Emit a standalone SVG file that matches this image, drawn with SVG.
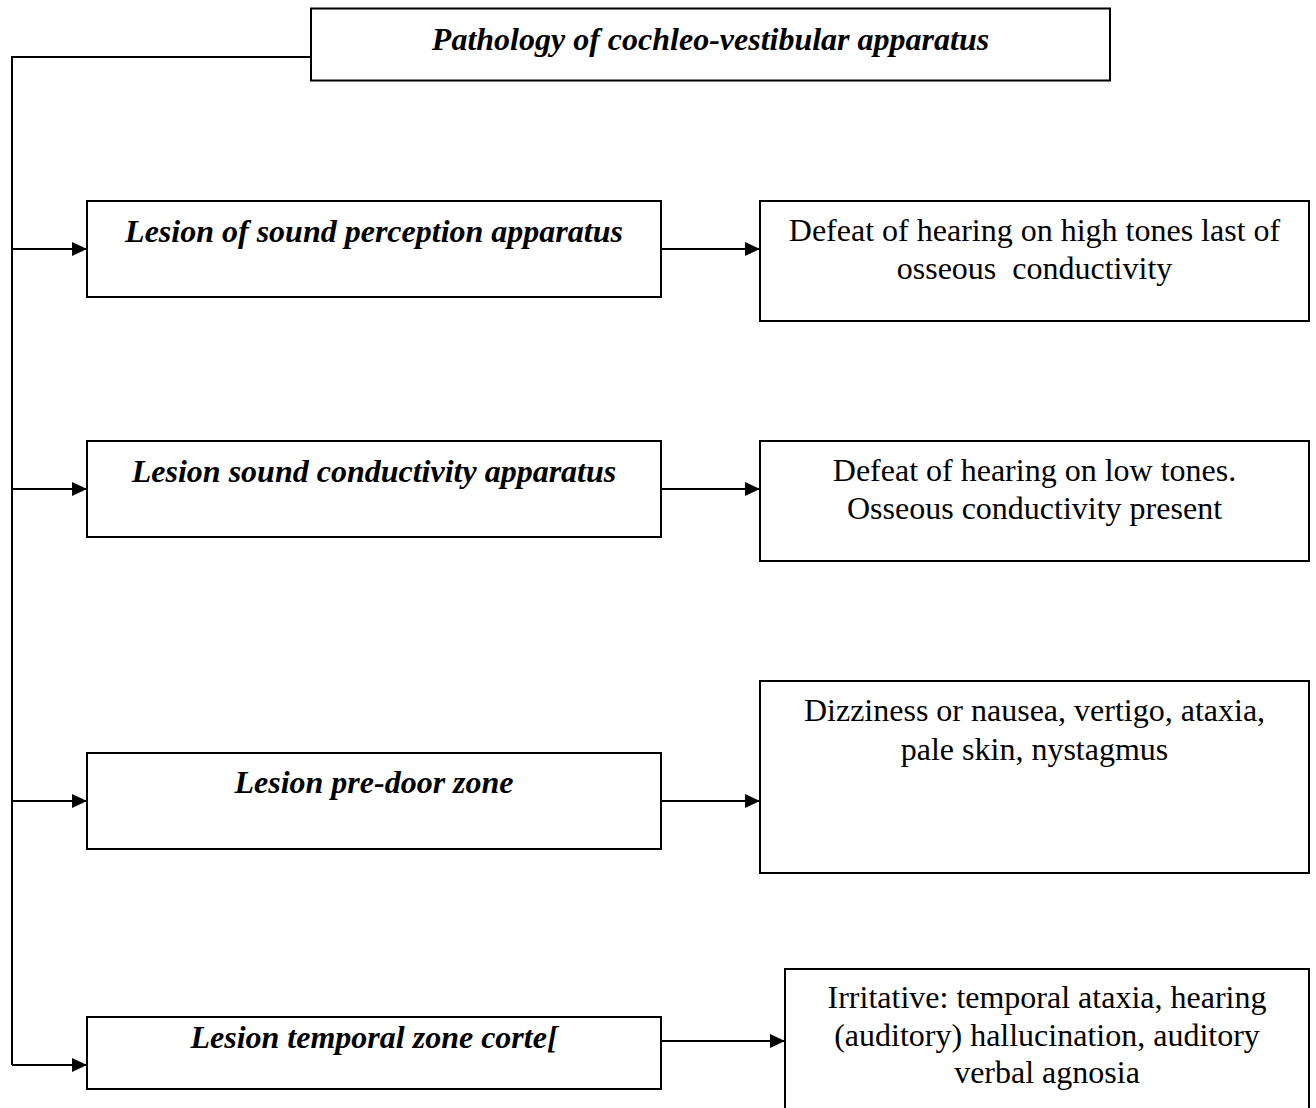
<svg xmlns="http://www.w3.org/2000/svg" width="1316" height="1108" viewBox="0 0 1316 1108">
  <style>
    .box { fill: #ffffff; stroke: #000000; stroke-width: 2; }
    .wire { fill: none; stroke: #000000; stroke-width: 2; }
    .head { font-family: "Liberation Serif", "Times New Roman", serif; font-size: 32px; font-weight: bold; font-style: italic; fill: #000000; text-anchor: middle; }
    .body { font-family: "Liberation Serif", "Times New Roman", serif; font-size: 32px; fill: #000000; text-anchor: middle; }
  </style>
  <defs>
    <marker id="arrow" markerUnits="userSpaceOnUse" markerWidth="15" markerHeight="14" refX="15" refY="7" orient="auto">
      <path d="M0,0 L15,7 L0,14 Z" fill="#000000"/>
    </marker>
  </defs>
  <rect width="1316" height="1108" fill="#ffffff"/>

  <!-- connectors -->
  <g id="connectors">
    <path class="wire" d="M311,57 H12 V1065"/>
    <path class="wire" d="M12,249 H87" marker-end="url(#arrow)"/>
    <path class="wire" d="M12,489 H87" marker-end="url(#arrow)"/>
    <path class="wire" d="M12,801 H87" marker-end="url(#arrow)"/>
    <path class="wire" d="M12,1065 H87" marker-end="url(#arrow)"/>
    <path class="wire" d="M661,249 H760" marker-end="url(#arrow)"/>
    <path class="wire" d="M661,489 H760" marker-end="url(#arrow)"/>
    <path class="wire" d="M661,801 H760" marker-end="url(#arrow)"/>
    <path class="wire" d="M661,1041 H785" marker-end="url(#arrow)"/>
  </g>

  <!-- root -->
  <g id="root">
    <rect class="box" x="311" y="8.5" width="799" height="72"/>
    <text class="head" x="710.5" y="50">Pathology of cochleo-vestibular apparatus</text>
  </g>

  <!-- lesion types -->
  <g id="lesion-perception">
    <rect class="box" x="87" y="201" width="574" height="96"/>
    <text class="head" x="374" y="242">Lesion of sound perception apparatus</text>
  </g>
  <g id="lesion-conductivity">
    <rect class="box" x="87" y="441" width="574" height="96"/>
    <text class="head" x="374" y="482">Lesion sound conductivity apparatus</text>
  </g>
  <g id="lesion-pre-door">
    <rect class="box" x="87" y="753" width="574" height="96"/>
    <text class="head" x="374" y="793">Lesion pre-door zone</text>
  </g>
  <g id="lesion-temporal">
    <rect class="box" x="87" y="1017" width="574" height="72"/>
    <text class="head" x="374" y="1048">Lesion temporal zone corte[</text>
  </g>

  <!-- symptoms -->
  <g id="symptom-perception">
    <rect class="box" x="760" y="201" width="549" height="120"/>
    <text class="body" x="1034.5" y="241">Defeat of hearing on high tones last of</text>
    <text class="body" x="1034.5" y="279" xml:space="preserve">osseous  conductivity</text>
  </g>
  <g id="symptom-conductivity">
    <rect class="box" x="760" y="441" width="549" height="120"/>
    <text class="body" x="1034.5" y="481">Defeat of hearing on low tones.</text>
    <text class="body" x="1034.5" y="519">Osseous conductivity present</text>
  </g>
  <g id="symptom-pre-door">
    <rect class="box" x="760" y="681" width="549" height="192"/>
    <text class="body" x="1034.5" y="721">Dizziness or nausea, vertigo, ataxia,</text>
    <text class="body" x="1034.5" y="760">pale skin, nystagmus</text>
  </g>
  <g id="symptom-temporal">
    <rect class="box" x="785" y="969" width="524" height="150"/>
    <text class="body" x="1047" y="1008">Irritative: temporal ataxia, hearing</text>
    <text class="body" x="1047" y="1046">(auditory) hallucination, auditory</text>
    <text class="body" x="1047" y="1083">verbal agnosia</text>
  </g>
</svg>
